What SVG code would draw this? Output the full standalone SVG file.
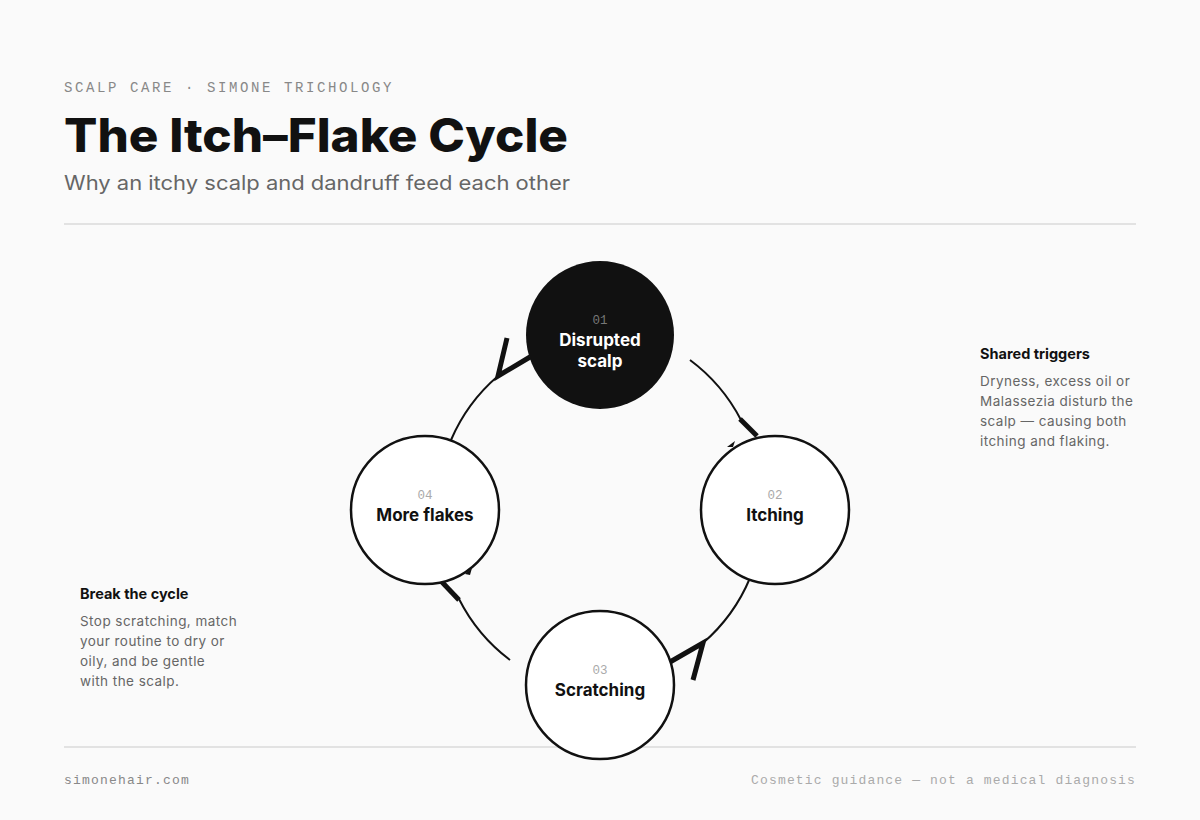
<svg xmlns="http://www.w3.org/2000/svg" width="1200" height="820" viewBox="0 0 1200 820">
<style>
.mono{font-family:"Liberation Mono","DejaVu Sans Mono",monospace}
.sans{font-family:Inter,"Liberation Sans",Arial,sans-serif}
.rule{stroke:#e2e2e2;stroke-width:2}
.arc{fill:none;stroke:#111;stroke-width:2}
.head{fill:none;stroke:#111;stroke-width:5;stroke-linecap:butt}
.node{fill:#fff;stroke:#111;stroke-width:2.5}
.num{font-size:12.5px;fill:#aaa;text-anchor:middle}
.lbl{font-size:17px;font-weight:700;fill:#111;text-anchor:middle}
.nh{font-size:14.5px;font-weight:700;fill:#111}
.nb{font-size:13.5px;fill:#666;letter-spacing:0.45px}
</style>
<rect width="1200" height="820" fill="#fafafa"/>
<text class="mono" x="64" y="92" font-size="14" letter-spacing="2.6" fill="#888">SCALP CARE · SIMONE TRICHOLOGY</text>
<text class="sans" x="64" y="152" font-size="46" font-weight="800" fill="#111" textLength="504" lengthAdjust="spacingAndGlyphs">The Itch–Flake Cycle</text>
<text class="sans" x="64" y="190" font-size="20" fill="#666" textLength="506" lengthAdjust="spacingAndGlyphs">Why an itchy scalp and dandruff feed each other</text>
<line class="rule" x1="64" y1="224" x2="1136" y2="224"/>
<line class="rule" x1="64" y1="747" x2="1136" y2="747"/>

<g id="connectors">
<path class="arc" d="M690,360 A175,175 0 0 1 741,420"/>
<path class="head" d="M740,419 L757,436"/>
<path d="M727,447 L735,441 L733,447 Z" fill="#111"/>
<path class="arc" d="M750,578 A175,175 0 0 1 703,643"/>
<path class="head" d="M670,662 L703,643 L693,680"/>
<path class="arc" d="M510,660 A175,175 0 0 1 459,599"/>
<path class="head" d="M459,600 L441,581"/>
<path d="M465,574 L472,568 L470,575 Z" fill="#111"/>
<path class="arc" d="M451,440 A175,175 0 0 1 498,376"/>
<path class="head" d="M530,357 L498,376 L507,338"/>
</g>

<g id="node-1">
<circle cx="600" cy="335" r="74" fill="#111"/>
<text class="mono num" x="600" y="324" style="fill:#777">01</text>
<text class="sans lbl" x="600" y="346" style="fill:#fff">Disrupted</text>
<text class="sans lbl" x="600" y="367" style="fill:#fff">scalp</text>
</g>
<g id="node-2">
<circle class="node" cx="775" cy="510" r="74"/>
<text class="mono num" x="775" y="499">02</text>
<text class="sans lbl" x="775" y="521">Itching</text>
</g>
<g id="node-3">
<circle class="node" cx="600" cy="685" r="74"/>
<text class="mono num" x="600" y="674">03</text>
<text class="sans lbl" x="600" y="696">Scratching</text>
</g>
<g id="node-4">
<circle class="node" cx="425" cy="510" r="74"/>
<text class="mono num" x="425" y="499">04</text>
<text class="sans lbl" x="425" y="521">More flakes</text>
</g>

<g id="note-triggers">
<text class="sans nh" x="980" y="359">Shared triggers</text>
<text class="sans nb" x="980" y="386">Dryness, excess oil or</text>
<text class="sans nb" x="980" y="406">Malassezia disturb the</text>
<text class="sans nb" x="980" y="426">scalp — causing both</text>
<text class="sans nb" x="980" y="446">itching and flaking.</text>
</g>
<g id="note-break">
<text class="sans nh" x="80" y="599">Break the cycle</text>
<text class="sans nb" x="80" y="626">Stop scratching, match</text>
<text class="sans nb" x="80" y="646">your routine to dry or</text>
<text class="sans nb" x="80" y="666">oily, and be gentle</text>
<text class="sans nb" x="80" y="686">with the scalp.</text>
</g>

<text class="mono" x="64" y="784" font-size="13" letter-spacing="1.2" fill="#888">simonehair.com</text>
<text class="mono" x="1136" y="784" font-size="13" letter-spacing="1.15" fill="#aaa" text-anchor="end">Cosmetic guidance — not a medical diagnosis</text>
</svg>
